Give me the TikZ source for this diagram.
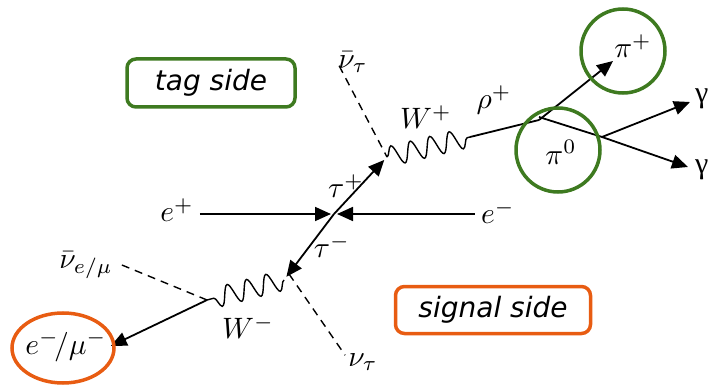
\documentclass[tikz,border=0pt]{standalone}
\usepackage{graphicx}
\usepackage{fontspec}
\newfontfamily\boxfont{DejaVu Sans}
\newfontfamily\gamfont{Liberation Serif}
\usetikzlibrary{arrows.meta, positioning, calc, shapes.geometric, decorations.pathmorphing}
\definecolor{taggreen}{RGB}{62,122,32}
\definecolor{sigorange}{RGB}{232,92,18}
\newcommand{\mlab}[1]{\scalebox{2.95}{$#1$}}

\begin{document}
\begin{tikzpicture}[
      x=1pt, y=-1pt,
      lab/.style={inner sep=1pt},
      fermion/.style={-{Triangle[length=16pt,width=14pt]}, line width=1.8pt},
      plain/.style={line width=1.8pt},
      scalar/.style={dash pattern=on 8pt off 6pt, line width=1.4pt},
      boson/.style={decorate, decoration={snake, amplitude=10pt, segment length=20pt},
                    line width=1.4pt},
      sidebox/.style={draw, rounded corners=9pt, line width=3.5pt, inner sep=0pt,
                      font=\boxfont\itshape\fontsize{28}{30}\selectfont},
      ring/.style={draw, circle, line width=3.5pt, inner sep=0pt}
    ]
    \useasboundingbox (0,0) rectangle (713,385);

    % vertices
    \coordinate (ann)  at (334,214);
    \coordinate (vtop) at (387,157);
    \coordinate (vbot) at (284,280);
    \coordinate (wtop) at (470,137);
    \coordinate (rhov) at (539,120);
    \coordinate (pizv) at (602,137);
    \coordinate (wbot) at (207,300);

    % beams
    \node[lab] (ep) at (177,210) {\mlab{e^+}};
    \node[lab] (em) at (498,212) {\mlab{e^-}};
    \draw[fermion, shorten >=3pt] ([xshift=5pt]ep.east |- ann) -- (ann);
    \draw[fermion, shorten >=-5pt] ([xshift=-5pt]em.west |- ann) -- ([xshift=8pt]ann);

    % tau pair
    \draw[fermion, shorten >=4pt] (ann) -- (vtop);
    \draw[fermion, shorten >=4pt] (ann) -- (vbot);
    \node[lab] (taup) at (346,186) {\mlab{\tau^+}};
    \node[lab] (taum) at (332,246) {\mlab{\tau^-}};

    % tag side decay
    \node[lab] (nubt) at (353,62) {\mlab{\bar{\nu}_\tau}};
    \draw[scalar] ([shift={(2pt,8pt)}]nubt.south west) -- (vtop);
    \draw[boson] (vtop) -- (wtop);
    \node[lab] (wp) at (426,117) {\mlab{W^+}};
    \draw[plain] (wtop) -- (rhov);
    \node[lab] (rho) at (494,100) {\mlab{\rho^+}};
    \draw[fermion] (rhov) -- (613,61) coordinate (pipend);
    \draw[plain] ([yshift=3pt]rhov) -- (pizv);
    \draw[fermion] (pizv) -- (690,102) coordinate (gaend1);
    \draw[fermion] (pizv) -- (688,167) coordinate (gaend2);
    \node[lab, anchor=west, font=\gamfont\fontsize{30}{32}\selectfont] (ga1) at (694,99) {γ};
    \node[lab, anchor=west, font=\gamfont\fontsize{30}{32}\selectfont] (ga2) at (694,170) {γ};
    \node[lab] (pip) at (633,46) {\mlab{\pi^+}};
    \node[lab] (piz) at (561,152) {\mlab{\pi^0}};
    \node[ring, taggreen, minimum size=84pt] (pipring) at (623,51) {};
    \node[ring, taggreen, minimum size=84pt] (pizring) at (558,150) {};

    % signal side decay
    \draw[boson] (vbot) -- (wbot);
    \node[lab] (wm) at (248,327) {\mlab{W^-}};
    \node[lab] (nut) at (363,362) {\mlab{\nu_\tau}};
    \draw[scalar] ([shift={(5pt,6pt)}]vbot) -- ([shift={(-2pt,-3pt)}]nut.north west);
    \node[lab] (nubl) at (86,265) {\mlab{\bar{\nu}_{e/\mu}}};
    \draw[scalar] ([xshift=8pt]nubl.east) -- (wbot);
    \node[lab] (lep) at (66,346) {\mlab{e^-\!/\mu^-}};
    \draw[fermion] (wbot) -- ([xshift=3pt]lep.east);
    \node[draw, sigorange, ellipse, line width=3.5pt, minimum width=102pt,
          minimum height=70pt] (lepring) at (63,348) {};

    % side labels
    \node[sidebox, taggreen, minimum width=168pt, minimum height=48pt,
          text=black] (tag) at (211,83) {tag side};
    \node[sidebox, sigorange, minimum width=195pt, minimum height=47pt,
          text=black] (sig) at (493,310) {signal side\hspace{10pt}};
  \end{tikzpicture}
\end{document}
